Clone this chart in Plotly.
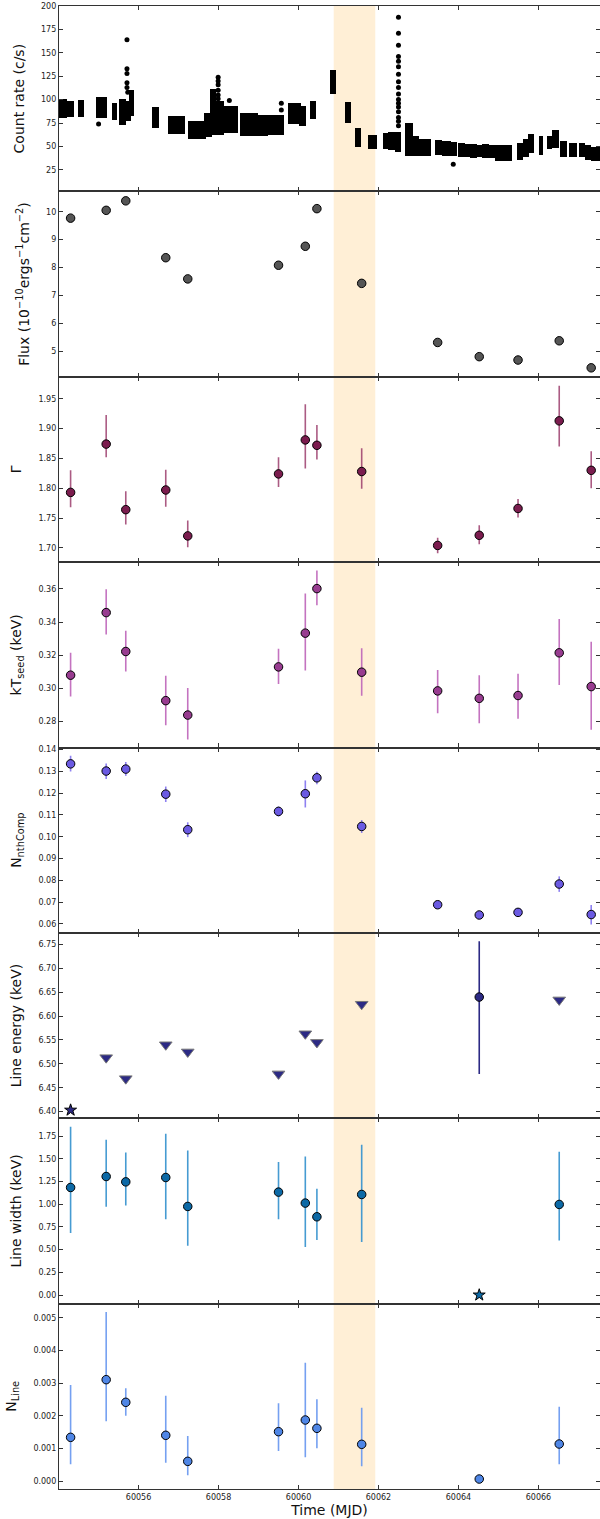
import plotly.graph_objects as go
from plotly.subplots import make_subplots

# ---------------- data ----------------
# light curve: clusters of continuous coverage (start, end, min rate, max rate)
seg_t0 = [60054.00, 60054.24, 60054.52, 60054.95, 60055.35, 60055.53, 60055.66, 60055.78, 60056.35, 60056.77,
          60057.27, 60057.65, 60057.80, 60057.93, 60058.10, 60058.55, 60058.97, 60059.22, 60059.77, 60060.04,
          60060.30, 60060.80, 60061.18, 60061.45, 60061.76, 60062.13, 60062.27, 60062.45, 60062.70, 60062.88,
          60063.05, 60063.43, 60063.615, 60063.825, 60064.015, 60064.175, 60064.325, 60064.475, 60064.615, 60064.765,
          60064.95, 60065.49, 60065.63, 60065.77, 60066.03, 60066.24, 60066.37, 60066.57, 60066.78, 60067.03,
          60067.18, 60067.33]
seg_t1 = [60054.18, 60054.35, 60054.62, 60055.18, 60055.43, 60055.66, 60055.78, 60055.85, 60056.48, 60057.13,
          60057.65, 60057.80, 60057.90, 60058.10, 60058.47, 60058.95, 60059.20, 60059.62, 60060.04, 60060.15,
          60060.42, 60060.91, 60061.28, 60061.55, 60061.93, 60062.22, 60062.41, 60062.55, 60062.83, 60063.00,
          60063.28, 60063.575, 60063.78, 60063.95, 60064.13, 60064.28, 60064.43, 60064.60, 60064.74, 60064.91,
          60065.325, 60065.60, 60065.75, 60065.87, 60066.10, 60066.32, 60066.49, 60066.70, 60066.95, 60067.13,
          60067.28, 60067.53]
seg_lo = [81, 83, 82, 81, 79, 74, 78, 84, 71, 64,
          59, 61, 63, 63, 65, 62, 62, 63, 75, 73,
          80, 107, 76, 50, 48, 48, 47, 45, 41, 41,
          41, 42, 41, 41, 40, 40, 39, 40, 39, 39,
          36, 37, 40, 44, 42, 48, 49, 40, 40, 40,
          37, 35]
seg_hi = [100, 98, 99, 102, 95, 100, 98, 109, 91, 81,
          76, 85, 110, 97, 92, 85, 83, 82, 95, 92,
          98, 131, 96, 69, 61, 63, 64, 64, 74, 60,
          57, 56, 55, 54, 53, 52, 52, 51, 52, 50,
          50, 53, 57, 62, 60, 60, 67, 55, 53, 53,
          50, 48]
# isolated light-curve points (flares / outliers)
pt_t = [60055.71, 60055.71, 60055.71, 60055.71, 60055.71, 60055.73, 60055.00,
        60057.99, 60057.99, 60057.99, 60057.99, 60057.99, 60057.99, 60058.27,
        60059.57, 60059.57,
        60062.50, 60062.50, 60062.50, 60062.50, 60062.50, 60062.50, 60062.50, 60062.50, 60062.50,
        60062.50, 60062.50, 60062.50, 60062.50, 60062.50, 60062.50, 60062.50, 60062.50,
        60063.87]
pt_rate = [164, 133, 128, 118, 113, 108, 74,
           124, 120, 116, 110, 105, 101, 99,
           96, 89,
           188, 171, 158, 146, 141, 135, 127, 119, 113,
           106, 100, 96, 92, 87, 81, 77, 72,
           31]

# spectral fits
obs_t = [60054.30, 60055.19, 60055.68, 60056.68, 60057.23, 60059.50, 60060.17, 60060.46, 60061.58,
         60063.48, 60064.52, 60065.49, 60066.52, 60067.32]
flux = [9.77, 10.05, 10.39, 8.35, 7.59, 8.08, 8.76, 10.11, 7.43, 5.31, 4.80, 4.68, 5.37, 4.40]

gamma = [1.793, 1.874, 1.764, 1.797, 1.720, 1.824, 1.881, 1.872, 1.828, 1.704, 1.721, 1.766, 1.913, 1.830]
gamma_hi = [1.830, 1.923, 1.795, 1.831, 1.746, 1.852, 1.941, 1.906, 1.867, 1.717, 1.738, 1.782, 1.972, 1.862]
gamma_lo = [1.768, 1.852, 1.739, 1.769, 1.701, 1.802, 1.833, 1.848, 1.799, 1.691, 1.706, 1.751, 1.870, 1.800]

kt = [0.3079, 0.3457, 0.3222, 0.2925, 0.2838, 0.3129, 0.3333, 0.3602, 0.3097, 0.2984, 0.2939, 0.2956, 0.3214, 0.3010]
kt_hi = [0.3214, 0.3598, 0.3347, 0.3075, 0.3002, 0.3238, 0.3572, 0.3711, 0.3242, 0.3111, 0.3079, 0.3087, 0.3418, 0.3281]
kt_lo = [0.2950, 0.3325, 0.3101, 0.2776, 0.2691, 0.3026, 0.3107, 0.3501, 0.2954, 0.2849, 0.2788, 0.2816, 0.3020, 0.2750]

nth = [0.1334, 0.1301, 0.1310, 0.1195, 0.1032, 0.1116, 0.1197, 0.1270, 0.1047, 0.0688, 0.0641, 0.0653, 0.0783, 0.0643]
nth_hi = [0.1371, 0.1336, 0.1342, 0.1230, 0.1066, 0.1139, 0.1258, 0.1298, 0.1076, 0.0702, 0.0656, 0.0669, 0.0818, 0.0687]
nth_lo = [0.1299, 0.1264, 0.1279, 0.1159, 0.0998, 0.1092, 0.1134, 0.1241, 0.1017, 0.0670, 0.0626, 0.0637, 0.0747, 0.0597]

# line energy: 'fixed' = star, 'limit' = down triangle, 'fit' = circle with error
le = [6.403, 6.513, 6.469, 6.540, 6.525, 6.479, 6.563, 6.545, 6.625, None, 6.640, None, 6.634, None]
le_hi = [None, None, None, None, None, None, None, None, None, None, 6.757, None, None, None]
le_lo = [None, None, None, None, None, None, None, None, None, None, 6.479, None, None, None]
le_kind = ['fixed', 'limit', 'limit', 'limit', 'limit', 'limit', 'limit', 'limit', 'limit', None, 'fit', None, 'limit', None]

lw = [1.185, 1.306, 1.247, 1.295, 0.976, 1.134, 1.013, 0.862, 1.108, None, 0.0, None, 0.998, None]
lw_hi = [1.853, 1.710, 1.570, 1.776, 1.592, 1.467, 1.526, 1.170, 1.655, None, 0.0, None, 1.578, None]
lw_lo = [0.682, 0.972, 0.987, 0.836, 0.543, 0.836, 0.528, 0.605, 0.583, None, 0.0, None, 0.602, None]
lw_kind = ['fit', 'fit', 'fit', 'fit', 'fit', 'fit', 'fit', 'fit', 'fit', None, 'fixed', None, 'fit', None]

nl = [0.001339, 0.003108, 0.002413, 0.001401, 0.000603, 0.001513, 0.001871, 0.001616, 0.001125, None, 0.000061, None, 0.001135, None]
nl_hi = [0.002945, 0.005184, 0.002843, 0.002618, 0.001380, 0.002382, 0.003630, 0.002505, 0.002249, None, 0.000061, None, 0.002280, None]
nl_lo = [0.000511, 0.001830, 0.002004, 0.000562, 0.000174, 0.000920, 0.000726, 0.001002, 0.000450, None, 0.000061, None, 0.000511, None]

shade_t0, shade_t1 = 60060.88, 60061.92
x_ticks = [60056, 60058, 60060, 60062, 60064, 60066]

# ---------------- figure ----------------
FONT = "DejaVu Sans"
fig = make_subplots(rows=8, cols=1, shared_xaxes=True, vertical_spacing=0)

# light curve as filled coverage blocks + isolated points
fig.add_trace(go.Bar(
    x=[(a + b) / 2 for a, b in zip(seg_t0, seg_t1)],
    y=[h - l for l, h in zip(seg_lo, seg_hi)],
    base=seg_lo,
    width=[b - a for a, b in zip(seg_t0, seg_t1)],
    marker=dict(color="black", line=dict(color="black", width=2)),
    showlegend=False), row=1, col=1)
fig.add_trace(go.Scatter(x=pt_t, y=pt_rate, mode="markers",
                         marker=dict(color="black", size=5), showlegend=False), row=1, col=1)


def err_panel(row, y, hi, lo, mcol, ecol, kinds=None, kind="fit", symbol="circle", size=8.5, lcol="black"):
    xs, ys, up, dn = [], [], [], []
    for i, v in enumerate(y):
        if v is None:
            continue
        if kinds is not None and kinds[i] != kind:
            continue
        xs.append(obs_t[i]); ys.append(v)
        up.append((hi[i] - v) if hi is not None and hi[i] is not None else 0)
        dn.append((v - lo[i]) if lo is not None and lo[i] is not None else 0)
    fig.add_trace(go.Scatter(
        x=xs, y=ys, mode="markers",
        marker=dict(color=mcol, size=size, symbol=symbol, line=dict(color=lcol, width=1)),
        error_y=dict(type="data", array=up, arrayminus=dn, color=ecol, thickness=1.6, width=0),
        showlegend=False), row=row, col=1)


err_panel(2, flux, None, None, "#555555", "#555555")
err_panel(3, gamma, gamma_hi, gamma_lo, "#7b1c4e", "rgba(150,50,100,0.8)")
err_panel(4, kt, kt_hi, kt_lo, "#983c90", "rgba(190,100,185,0.9)")
err_panel(5, nth, nth_hi, nth_lo, "#6b5ae2", "rgba(130,115,240,0.9)")
err_panel(6, le, le_hi, le_lo, "#2c2a84", "#2c2a84", le_kind, "fit")
err_panel(6, le, None, None, "#2c2a84", "#2c2a84", le_kind, "limit", symbol="triangle-down", size=11, lcol="#777777")
err_panel(6, le, None, None, "#2c2a84", "#2c2a84", le_kind, "fixed", symbol="star", size=9)
err_panel(7, lw, lw_hi, lw_lo, "#0c69a6", "rgba(60,150,208,0.95)", lw_kind, "fit")
err_panel(7, lw, None, None, "#0c69a6", "#0c69a6", lw_kind, "fixed", symbol="star", size=9)
err_panel(8, nl, nl_hi, nl_lo, "#4f86e6", "rgba(110,155,240,0.95)")

# shaded interval across all panels
fig.add_shape(type="rect", xref="x", yref="paper", x0=shade_t0, x1=shade_t1, y0=0, y1=1,
              fillcolor="#ffefd6", line_width=0, layer="below")

y_specs = [
    ("Count rate (c/s)", [2, 200], [25, 50, 75, 100, 125, 150, 175, 200], "d"),
    ("Flux (10<sup>−10</sup>ergs<sup>−1</sup>cm<sup>−2</sup>)", [4.08, 10.73], [5, 6, 7, 8, 9, 10], "d"),
    ("Γ", [1.676, 1.987], [1.70, 1.75, 1.80, 1.85, 1.90, 1.95], ".2f"),
    ("kT<sub>seed</sub> (keV)", [0.2642, 0.3762], [0.28, 0.30, 0.32, 0.34, 0.36], ".2f"),
    ("N<sub>nthComp</sub>", [0.0559, 0.1409], [0.06, 0.07, 0.08, 0.09, 0.10, 0.11, 0.12, 0.13, 0.14], ".2f"),
    ("Line energy (keV)", [6.386, 6.7745], [6.40, 6.45, 6.50, 6.55, 6.60, 6.65, 6.70, 6.75], ".2f"),
    ("Line width (keV)", [-0.095, 1.948], [0.0, 0.25, 0.5, 0.75, 1.0, 1.25, 1.5, 1.75], ".2f"),
    ("N<sub>Line</sub>", [-0.000245, 0.00544], [0.0, 0.001, 0.002, 0.003, 0.004, 0.005], ".3f"),
]

axcol = "#333333"
for i, (title, rng, tv, fmt) in enumerate(y_specs, start=1):
    fig.update_yaxes(row=i, col=1, range=rng, tickvals=tv, tickformat=fmt,
                     ticks="inside", ticklen=4, tickcolor=axcol, showline=True, linecolor=axcol,
                     linewidth=1.2, mirror="ticks", showgrid=False, zeroline=False,
                     tickfont=dict(family=FONT, size=8, color="#222222"),
                     title=dict(text=title, font=dict(family=FONT, size=14, color="#111111"), standoff=13),
                     automargin=False)
    fig.update_xaxes(row=i, col=1, range=[60054.01, 60067.54], tickvals=x_ticks, tickformat="d",
                     ticks="inside", ticklen=4, tickcolor=axcol, showline=True, linecolor=axcol,
                     linewidth=1.2, mirror="ticks", showgrid=False, zeroline=False,
                     tickfont=dict(family=FONT, size=8, color="#222222"), automargin=False)

fig.update_xaxes(row=8, col=1, title=dict(text="Time (MJD)", font=dict(family=FONT, size=14, color="#111111"),
                                          standoff=2))

fig.update_layout(width=600, height=1519, margin=dict(l=59, r=0, t=6, b=30),
                  paper_bgcolor="white", plot_bgcolor="white", bargap=0, barmode="overlay",
                  font=dict(family=FONT))

fig.write_html("out.html")
